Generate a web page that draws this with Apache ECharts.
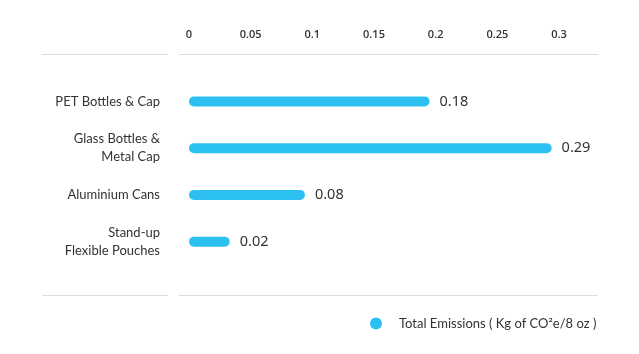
<!DOCTYPE html>
<html>
<head>
<meta charset="utf-8">
<script src="https://cdn.jsdelivr.net/npm/echarts@6/dist/echarts.min.js"></script>
<style>html,body{margin:0;padding:0;background:#fff;}#c{width:639px;height:354px;}</style>
</head>
<body>
<div id="c"></div>
<script>
const categories = ['PET Bottles & Cap', 'Glass Bottles &\nMetal Cap', 'Aluminium Cans', 'Stand-up\nFlexible Pouches'];
const values = [0.195, 0.294, 0.094, 0.033];
const valueLabels = ['0.18', '0.29', '0.08', '0.02'];
const xTicks = [0, 0.05, 0.1, 0.15, 0.2, 0.25, 0.3];
const seriesName = 'Total Emissions ( Kg of CO²e/8 oz )';

const chart = echarts.init(document.getElementById('c'), null, {renderer: 'canvas'});
const lineStyle = {stroke: '#dcdcdc', lineWidth: 1};
chart.setOption({
  animation: false,
  grid: {left: 189, right: 80, top: 78, height: 187, containLabel: false},
  xAxis: {
    type: 'value', position: 'top', min: 0, max: 0.3, interval: 0.05,
    axisLine: {show: false}, axisTick: {show: false}, splitLine: {show: false},
    axisLabel: {
      margin: 38, color: '#333', fontSize: 11, fontWeight: 600, fontFamily: 'Open Sans',
      formatter: v => { const t = xTicks.find(x => Math.abs(x - v) < 1e-9); return t === undefined ? '' : String(t); }
    }
  },
  yAxis: {
    type: 'category', data: categories, inverse: true,
    axisLine: {show: false}, axisTick: {show: false},
    axisLabel: {margin: 29, color: '#333', fontSize: 13, fontFamily: 'Lato', lineHeight: 18, align: 'right'}
  },
  legend: {
    left: 365, top: 312, itemWidth: 30, itemHeight: 12, icon: 'circle',
    textStyle: {color: '#333', fontSize: 13, fontFamily: 'Lato', padding: [0, 0, 0, 3]},
    data: [seriesName]
  },
  series: [{
    name: seriesName, type: 'bar', data: values, barWidth: 10,
    itemStyle: {color: '#2cc0f0', borderRadius: 5},
    label: {
      show: true, position: 'right', distance: 10, color: '#333', fontSize: 14.5, fontFamily: 'Noto Sans',
      formatter: p => valueLabels[p.dataIndex]
    }
  }],
  graphic: [
    {type: 'line', shape: {x1: 42, y1: 54.5, x2: 168, y2: 54.5}, style: lineStyle, silent: true},
    {type: 'line', shape: {x1: 179, y1: 54.5, x2: 598, y2: 54.5}, style: lineStyle, silent: true},
    {type: 'line', shape: {x1: 42, y1: 295.5, x2: 168, y2: 295.5}, style: lineStyle, silent: true},
    {type: 'line', shape: {x1: 179, y1: 295.5, x2: 598, y2: 295.5}, style: lineStyle, silent: true}
  ]
});
</script>
</body>
</html>
